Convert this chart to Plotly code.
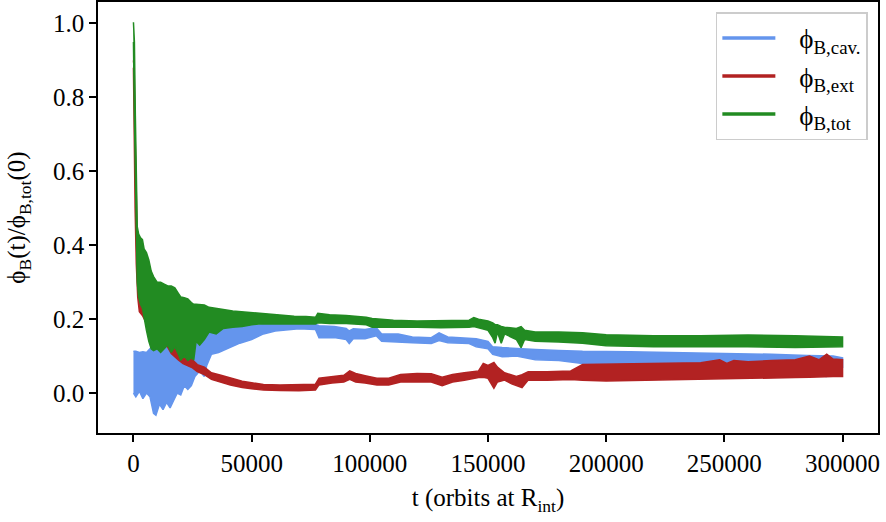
import plotly.graph_objects as go

# ---------------- data (envelopes) ----------------
t_cav = [0, 1000, 2500, 4000, 5500, 7000, 8500, 9500, 11000, 12500,
         14000, 15500, 17000, 18500, 20000, 21500, 23000, 24500, 26000, 28000,
         30000, 31000, 33000, 36000, 40000, 45000, 50000, 55000, 60000, 65000,
         70000, 77000, 78500, 85000, 90000, 91300, 93000, 98000, 102700, 105000,
         112000, 118000, 126000, 129300, 133000, 138000, 142000, 145000, 150000, 152000,
         156000, 162000, 170000, 180000, 190000, 210000, 230000, 250000, 270000, 285000,
         293000, 296000, 300000]
cav_lo = [0.00, -0.01, 0.005, -0.015, 0.0, -0.01, -0.055, -0.06, -0.03, -0.045,
          -0.025, -0.04, -0.02, 0.0, -0.005, 0.02, 0.01, 0.02, 0.045, 0.06,
          0.045, 0.075, 0.105, 0.11, 0.12, 0.135, 0.145, 0.16, 0.168, 0.172,
          0.174, 0.172, 0.15, 0.15, 0.145, 0.134, 0.147, 0.147, 0.155, 0.14,
          0.138, 0.136, 0.134, 0.142, 0.136, 0.134, 0.134, 0.125, 0.12, 0.105,
          0.098, 0.1, 0.09, 0.088, 0.08, 0.075, 0.072, 0.07, 0.07, 0.068,
          0.045, 0.07, 0.07]
cav_hi = [0.113, 0.113, 0.11, 0.112, 0.11, 0.12, 0.13, 0.13, 0.14, 0.14,
          0.14, 0.15, 0.15, 0.15, 0.15, 0.15, 0.16, 0.16, 0.16, 0.165,
          0.165, 0.17, 0.17, 0.175, 0.178, 0.18, 0.183, 0.186, 0.187, 0.188,
          0.188, 0.186, 0.182, 0.18, 0.175, 0.168, 0.174, 0.172, 0.177, 0.16,
          0.16, 0.152, 0.15, 0.163, 0.152, 0.15, 0.15, 0.147, 0.14, 0.125,
          0.123, 0.12, 0.118, 0.115, 0.113, 0.112, 0.11, 0.107, 0.105, 0.102,
          0.1, 0.1, 0.095]

t_ext = [0, 300, 700, 1200, 1800, 2500, 3800, 5000, 6500, 8000,
         10000, 12000, 14000, 16000, 17000, 19000, 21000, 23000, 25000, 27000,
         30000, 33000, 37000, 41000, 46000, 50000, 55000, 62000, 70000, 77000,
         78500, 84000, 89000, 91500, 94000, 98000, 103000, 108000, 113000, 120000,
         126000, 130600, 135000, 140000, 146000, 148000, 150000, 152500, 154000, 157000,
         160000, 162000, 164400, 167000, 175000, 185000, 190000, 200000, 210000, 220000,
         230000, 240000, 248000, 251000, 254000, 260000, 270000, 280000, 286000, 290000,
         293300, 296000, 300000]
ext_lo = [0.88, 0.7, 0.5, 0.35, 0.26, 0.22, 0.21, 0.195, 0.19, 0.17,
          0.16, 0.15, 0.13, 0.107, 0.1, 0.09, 0.08, 0.075, 0.068, 0.058,
          0.05, 0.037, 0.03, 0.022, 0.015, 0.012, 0.008, 0.007, 0.006, 0.008,
          0.022, 0.027, 0.03, 0.037, 0.03, 0.027, 0.022, 0.022, 0.03, 0.03,
          0.03, 0.02, 0.03, 0.035, 0.042, 0.043, 0.04, 0.013, 0.03, 0.035,
          0.025, 0.02, 0.015, 0.035, 0.035, 0.037, 0.035, 0.033, 0.034, 0.035,
          0.036, 0.038, 0.038, 0.039, 0.04, 0.04, 0.041, 0.042, 0.043, 0.043,
          0.044, 0.045, 0.045]
ext_hi = [0.9, 0.88, 0.7, 0.5, 0.35, 0.28, 0.235, 0.225, 0.22, 0.215,
          0.2, 0.19, 0.17, 0.145, 0.14, 0.11, 0.1, 0.097, 0.09, 0.077,
          0.07, 0.055, 0.048, 0.04, 0.032, 0.028, 0.023, 0.022, 0.022, 0.024,
          0.04, 0.044, 0.048, 0.06, 0.053, 0.047, 0.04, 0.04, 0.05, 0.053,
          0.052, 0.043, 0.05, 0.055, 0.06, 0.08, 0.075, 0.083, 0.07, 0.055,
          0.05, 0.045, 0.05, 0.058, 0.058, 0.06, 0.077, 0.078, 0.08, 0.08,
          0.082, 0.082, 0.09, 0.08, 0.088, 0.085, 0.088, 0.09, 0.1, 0.09,
          0.105, 0.092, 0.09]

t_tot = [0, 400, 800, 1200, 1600, 2200, 3000, 3800, 4500, 5500,
         6500, 7500, 8500, 10000, 11500, 13000, 14500, 16000, 17500, 19000,
         20000, 21500, 23000, 24500, 25500, 26500, 28000, 30000, 32000, 35000,
         38000, 42000, 46000, 50000, 53000, 58000, 63000, 68000, 73000, 77000,
         78000, 83000, 90000, 95000, 98500, 101000, 105000, 110000, 120000, 130000,
         138000, 142000, 144000, 146000, 150000, 152000, 153000, 154000, 155600, 157000,
         162000, 164000, 165500, 170000, 180000, 190000, 200000, 220000, 240000, 260000,
         280000, 300000]
tot_lo = [0.95, 0.75, 0.55, 0.42, 0.3, 0.26, 0.24, 0.23, 0.2, 0.17,
          0.14, 0.12, 0.115, 0.12, 0.11, 0.12, 0.13, 0.11, 0.125, 0.105,
          0.09, 0.1, 0.088, 0.095, 0.09, 0.14, 0.13, 0.145, 0.165, 0.16,
          0.175, 0.178, 0.18, 0.185, 0.187, 0.188, 0.188, 0.187, 0.187, 0.187,
          0.19, 0.188, 0.188, 0.187, 0.185, 0.178, 0.176, 0.178, 0.178, 0.177,
          0.177, 0.178, 0.18, 0.178, 0.17, 0.15, 0.135, 0.165, 0.135, 0.16,
          0.145, 0.123, 0.145, 0.14, 0.138, 0.135, 0.128, 0.125, 0.125, 0.125,
          0.123, 0.125]
tot_hi = [1.003, 0.95, 0.75, 0.55, 0.45, 0.43, 0.42, 0.415, 0.39, 0.38,
          0.36, 0.33, 0.315, 0.30, 0.3, 0.295, 0.29, 0.29, 0.285, 0.27,
          0.26, 0.258, 0.255, 0.245, 0.24, 0.24, 0.24, 0.238, 0.232, 0.228,
          0.226, 0.222, 0.22, 0.218, 0.215, 0.212, 0.21, 0.208, 0.207, 0.205,
          0.216, 0.212, 0.21, 0.208, 0.205, 0.202, 0.2, 0.197, 0.195, 0.195,
          0.195, 0.197, 0.204, 0.2, 0.195, 0.19, 0.185, 0.185, 0.18, 0.178,
          0.175, 0.18, 0.17, 0.165, 0.165, 0.163, 0.158, 0.155, 0.155, 0.157,
          0.155, 0.152]

x_ticks = [0, 50000, 100000, 150000, 200000, 250000, 300000]
y_ticks = [0.0, 0.2, 0.4, 0.6, 0.8, 1.0]

series = [
    ("ϕ<sub>B,cav.</sub>", "#6495ED", t_cav, cav_lo, cav_hi),
    ("ϕ<sub>B,ext</sub>", "#B22222", t_ext, ext_lo, ext_hi),
    ("ϕ<sub>B,tot</sub>", "#228B22", t_tot, tot_lo, tot_hi),
]

FONT = "Liberation Serif"
fig = go.Figure()
for i, (name, col, t, lo, hi) in enumerate(series):
    fig.add_trace(go.Scatter(
        x=list(t) + list(t)[::-1], y=list(hi) + list(lo)[::-1],
        mode="lines", fill="toself", fillcolor=col,
        line=dict(color=col, width=1.5), showlegend=False, hoverinfo="skip"))
for i, (name, col, t, lo, hi) in enumerate(series):
    fig.add_trace(go.Scatter(x=[None], y=[None], mode="lines",
                             name="\u2002\u2009" + name,
                             line=dict(color=col, width=3.5), legendgroup=f"g{i}"))

axis_common = dict(showline=True, linecolor="black", linewidth=1.5, mirror=True,
                   ticks="outside", ticklen=7, tickwidth=1.5, tickcolor="black",
                   showgrid=False, zeroline=False, automargin=False,
                   tickfont=dict(family=FONT, size=25, color="black"))
fig.update_xaxes(range=[-15000, 315000], tickvals=x_ticks,
                 ticktext=[str(v) for v in x_ticks],
                 title=dict(text="t (orbits at R<sub>int</sub>)",
                            font=dict(family=FONT, size=25, color="black"), standoff=13),
                 **axis_common)
fig.update_yaxes(range=[-0.108, 1.058], tickvals=y_ticks,
                 ticktext=[f"{v:.1f}" for v in y_ticks],
                 title=dict(text="ϕ<sub>B</sub>(t)/ϕ<sub>B,tot</sub>(0)",
                            font=dict(family=FONT, size=25, color="black"), standoff=20),
                 **axis_common)
fig.update_layout(
    width=886, height=522, margin=dict(l=98, r=8, t=2, b=89),
    paper_bgcolor="white", plot_bgcolor="white",
    legend=dict(x=0.987, y=0.976, xanchor="right", yanchor="top",
                bgcolor="white", bordercolor="#cccccc", borderwidth=1.5,
                font=dict(family=FONT, size=27, color="black"),
                tracegroupgap=0, itemwidth=53),
)
fig.write_html("out.html", config={"displayModeBar": False},
               post_script="document.body.style.margin='0';document.body.style.padding='0';")
